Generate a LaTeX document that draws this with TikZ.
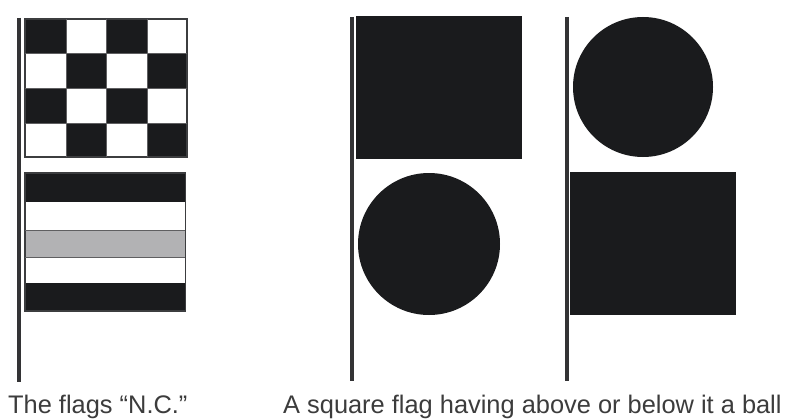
\documentclass[tikz,border=0pt]{standalone}
\usepackage{fontspec}
\setmainfont{Liberation Sans}
\usetikzlibrary{calc,positioning}
\definecolor{ink}{HTML}{1A1B1D}
\definecolor{pole}{HTML}{333335}
\definecolor{stripe}{HTML}{B2B2B4}
\definecolor{caption}{HTML}{3C3C3C}
\tikzset{
  flagpole/.style={draw=pole,line width=4pt},
  flagedge/.style={draw=ink!85,line width=1.1pt},
  flagfill/.style={fill=ink},
  ball/.style={fill=ink},
  label/.style={font=\fontsize{25.4}{28}\selectfont,text=caption,anchor=base west,inner sep=0pt}
}
\begin{document}
\begin{tikzpicture}[x=1pt,y=-1pt]
  \useasboundingbox (0,0) rectangle (790,420);
  % the flags N.C.
  \draw[flagpole] (18.7,18)--(18.7,382);
  \fill[white] (25,19) rectangle (187,157);
  \foreach \c/\r/\cb/\rb in {0/0/66/53,2/0/147/53,1/1/106/88,3/1/187/88,0/2/66/123,2/2/147/123,1/3/106/157,3/3/187/157}{
    \pgfmathsetmacro{\xa}{{25,66,106,147}[\c]}
    \pgfmathsetmacro{\ya}{{19,53,88,123}[\r]}
    \fill[flagfill] (\xa,\ya) rectangle (\cb,\rb);
  }
  \draw[flagedge] (25,19) rectangle (187,157);
  \draw[draw=ink!70,line width=.5pt] (25,53)--(187,53) (25,88)--(187,88) (25,123)--(187,123);
  \draw[draw=ink!70,line width=.5pt] (66,19)--(66,157) (106,19)--(106,157) (147,19)--(147,157);
  \fill[stripe] (25,230) rectangle (185,257);
  \fill[flagfill] (24,173) rectangle (186,202);
  \fill[flagfill] (24,283) rectangle (186,311);
  \draw[flagedge] (25,173) rectangle (185.5,311);
  \draw[draw=ink!70,line width=.6pt] (25,230)--(185,230) (25,257)--(185,257);
  % square flag above the ball
  \draw[flagpole] (351.5,17)--(351.5,381);
  \fill[flagfill] (356,16) rectangle (522,159);
  \fill[ball] (429,244) circle (71);
  % ball above the square flag
  \draw[flagpole] (566.5,17)--(566.5,381);
  \fill[ball] (643,87) circle (70);
  \fill[flagfill] (570,172) rectangle (736,315);
  % captions
  \node[label] (flagsNC) at (8,413) {The flags “N.C.”};
  \node[label] (squareball) at (283,413) {A square flag having above or below it a ball};
\end{tikzpicture}
\end{document}
